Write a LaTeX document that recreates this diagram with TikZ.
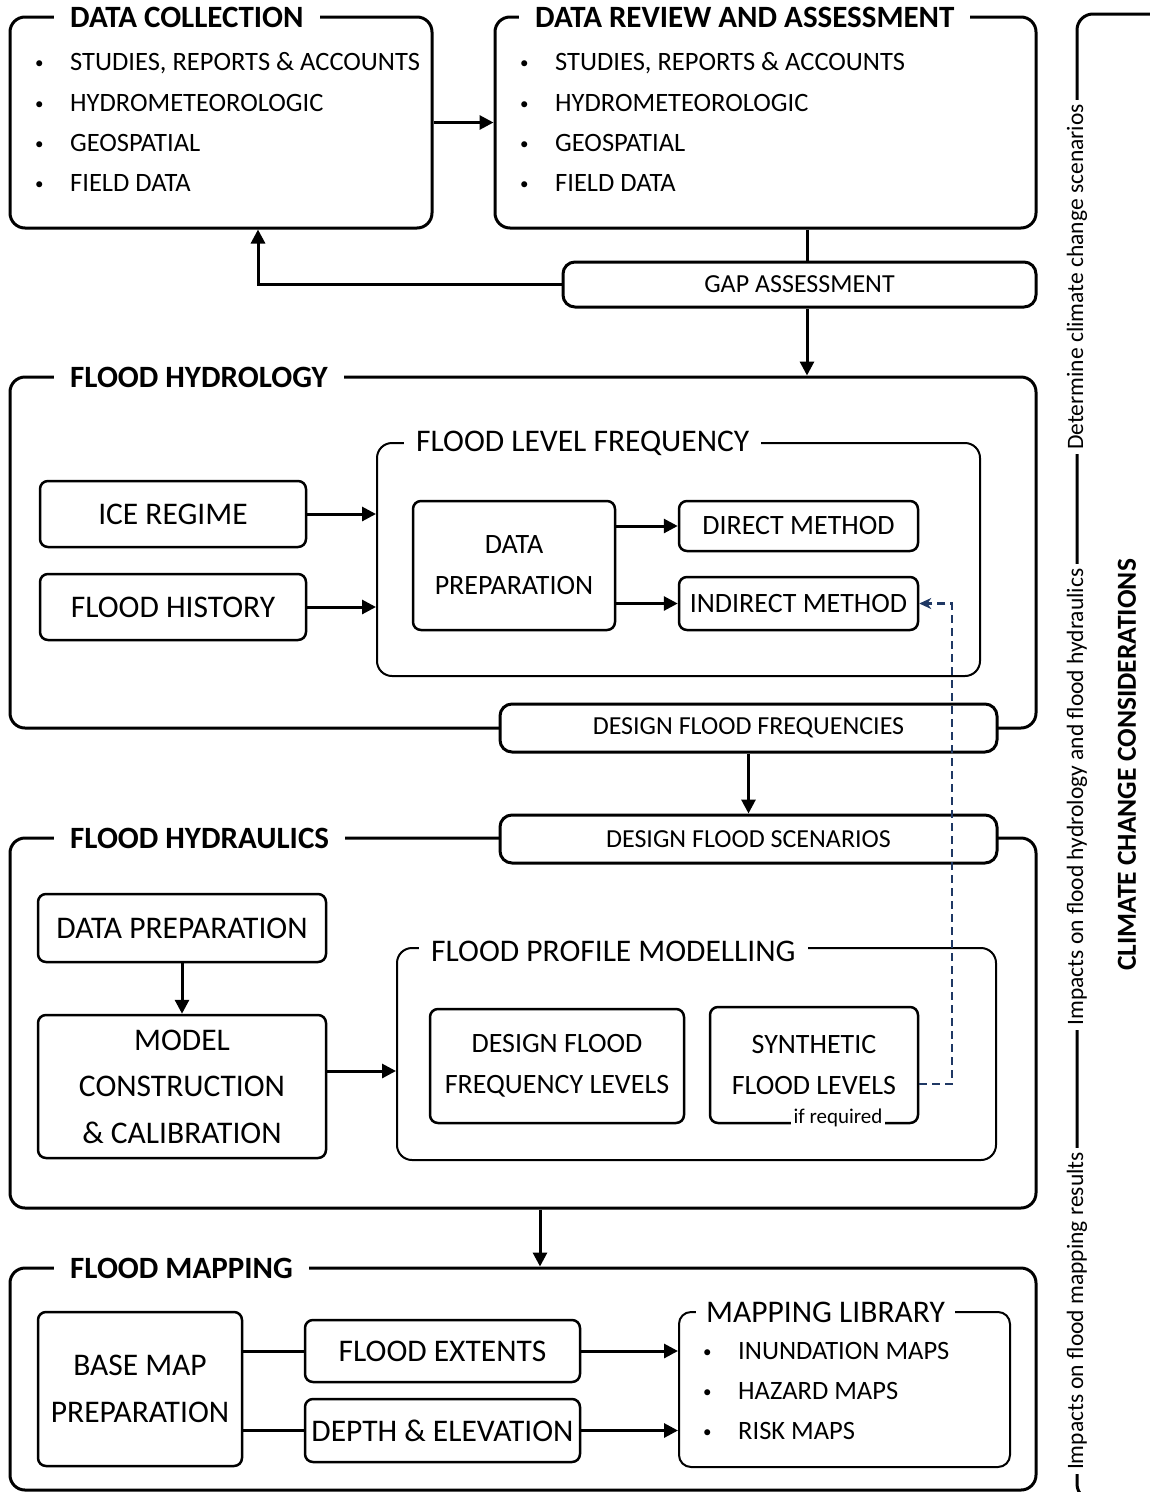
\documentclass[tikz,border=0pt]{standalone}
\usepackage{fontspec}
\setmainfont{Carlito}
\usetikzlibrary{arrows.meta}

\definecolor{navy}{HTML}{1F3864}

\newcommand{\listentry}[2]{\makebox[#1][l]{\raisebox{2pt}{\fontsize{17}{17}\selectfont\textbullet}}#2}

\tikzset{
  frame/.style={draw, line width=3pt, rounded corners=15pt, inner sep=0pt},
  subframe/.style={draw, line width=2pt, rounded corners=15pt, inner sep=0pt},
  box/.style={draw, fill=white, line width=2.5pt, rounded corners=8pt, align=center, inner sep=0pt},
  bar/.style={draw, fill=white, line width=3pt, rounded corners=12pt, inner sep=0pt,
    font=\fontsize{26}{30}\selectfont},
  heading/.style={fill=white, anchor=west, inner xsep=16pt, inner ysep=2pt,
    font=\bfseries\fontsize{31}{36}\selectfont},
  subheading/.style={fill=white, anchor=west, inner xsep=12pt, inner ysep=2pt,
    font=\fontsize{31.5}{36}\selectfont},
  entry/.style={anchor=west, inner sep=0pt, font=\fontsize{26.5}{32}\selectfont},
  big/.style={font=\fontsize{31.5}{46.5}\selectfont},
  small/.style={font=\fontsize{28}{41}\selectfont},
  arrow/.style={line width=3pt, -{Triangle[length=14pt,width=14pt]}},
  link/.style={line width=3pt},
  dashlink/.style={draw=navy, line width=2.5pt, dash pattern=on 8pt off 5pt,
    -{Stealth[length=12pt,width=11pt]}},
  side/.style={fill=white, rotate=90, inner xsep=4pt, inner ysep=1pt,
    font=\fontsize{23.5}{28}\selectfont}
}

\begin{document}
\begin{tikzpicture}[x=1pt, y=-1pt]
    \useasboundingbox (0,0) rectangle (1150,1492);

    % data collection
    \node[frame, minimum width=422pt, minimum height=211pt] (dcol) at (221,122.5) {};
    \node[heading] (dcolt) at (54,17) {DATA COLLECTION};
    \node[entry] (dc1) at (35,63) {\listentry{35pt}{STUDIES, REPORTS \& ACCOUNTS}};
    \node[entry] (dc2) at (35,103) {\listentry{35pt}{HYDROMETEOROLOGIC}};
    \node[entry] (dc3) at (35,143) {\listentry{35pt}{GEOSPATIAL}};
    \node[entry] (dc4) at (35,183) {\listentry{35pt}{FIELD DATA}};

    % data review
    \node[frame, minimum width=541pt, minimum height=211pt] (drev) at (765.5,122.5) {};
    \node[heading] (drevt) at (519,17) {DATA REVIEW AND ASSESSMENT};
    \node[entry] (dr1) at (520,63) {\listentry{35pt}{STUDIES, REPORTS \& ACCOUNTS}};
    \node[entry] (dr2) at (520,103) {\listentry{35pt}{HYDROMETEOROLOGIC}};
    \node[entry] (dr3) at (520,143) {\listentry{35pt}{GEOSPATIAL}};
    \node[entry] (dr4) at (520,183) {\listentry{35pt}{FIELD DATA}};

    \draw[arrow] (dcol.east) -- (drev.west);

    % gap assessment
    \coordinate (gx) at (807,0);
    \coordinate (cx) at (258,0);
    \draw[link] (drev.south -| gx) -- (807,270);
    \node[bar, minimum width=473pt, minimum height=45pt] (gap) at (799.5,284.5) {GAP ASSESSMENT};
    \draw[arrow] (gap.west) -| (dcol.south -| cx);

    % flood hydrology
    \node[frame, minimum width=1026pt, minimum height=351pt] (hyd) at (523,552.5) {};
    \node[heading] (hydt) at (54,377) {FLOOD HYDROLOGY};
    \draw[arrow] (gap.south -| gx) -- (hyd.north -| gx);

    \node[subframe, minimum width=603pt, minimum height=233pt] (flf) at (678.5,559.5) {};
    \node[subheading] (flft) at (404,443) {FLOOD LEVEL FREQUENCY};
    \node[box, big, minimum width=266pt, minimum height=66pt] (ice) at (173,514) {ICE REGIME};
    \node[box, big, minimum width=266pt, minimum height=66pt] (fhist) at (173,607) {FLOOD HISTORY};
    \node[box, small, minimum width=202pt, minimum height=129pt] (dprep) at (514,565.5) {DATA\\PREPARATION};
    \node[box, small, minimum width=239pt, minimum height=50pt] (direct) at (798.5,526) {DIRECT METHOD};
    \node[box, small, minimum width=239pt, minimum height=53pt] (indirect) at (798.5,603.5) {INDIRECT METHOD};

    \draw[arrow] (ice.east) -- (ice.east -| flf.west);
    \draw[arrow] (fhist.east) -- (fhist.east -| flf.west);
    \draw[arrow] (direct.west -| dprep.east) -- (direct.west);
    \draw[arrow] (indirect.west -| dprep.east) -- (indirect.west);

    \node[bar, minimum width=497pt, minimum height=48pt] (dff) at (748.5,728) {DESIGN FLOOD FREQUENCIES};

    % flood hydraulics
    \node[frame, minimum width=1026pt, minimum height=370pt] (hyr) at (523,1023) {};
    \node[heading] (hyrt) at (54,838) {FLOOD HYDRAULICS};
    \node[bar, minimum width=497pt, minimum height=48pt] (dfs) at (748.5,839) {DESIGN FLOOD SCENARIOS};
    \draw[arrow] (dff.south) -- (dfs.north);

    \node[box, big, minimum width=288pt, minimum height=68pt] (hdprep) at (182,928) {DATA PREPARATION};
    \node[box, big, minimum width=288pt, minimum height=143pt] (model) at (182,1086.5) {MODEL\\CONSTRUCTION\\\& CALIBRATION};
    \draw[arrow] (hdprep.south) -- (model.north);

    \node[subframe, minimum width=599pt, minimum height=212pt] (fpm) at (696.5,1054) {};
    \node[subheading] (fpmt) at (419,951) {FLOOD PROFILE MODELLING};
    \node[box, small, minimum width=254pt, minimum height=114pt] (dffl) at (557,1066) {DESIGN FLOOD\\FREQUENCY LEVELS};
    \node[box, small, minimum width=208pt, minimum height=116pt] (synth) at (814,1065) {SYNTHETIC\\FLOOD LEVELS};
    \node[fill=white, anchor=base, inner xsep=3pt, inner ysep=1pt,
        font=\fontsize{21}{24}\selectfont] (ifreq) at (838,1123) {if required};
    \draw[arrow] (model.east |- 0,1071) -- (fpm.west |- 0,1071);

    % flood mapping
    \coordinate (mx) at (540,0);
    \node[frame, minimum width=1026pt, minimum height=222pt] (map) at (523,1379) {};
    \node[heading] (mapt) at (54,1268) {FLOOD MAPPING};
    \draw[arrow] (hyr.south -| mx) -- (map.north -| mx);

    \node[box, big, minimum width=204pt, minimum height=154pt] (base) at (140,1389) {BASE MAP\\PREPARATION};
    \node[box, big, minimum width=275pt, minimum height=62pt] (ext) at (442.5,1351) {FLOOD EXTENTS};
    \node[box, big, minimum width=275pt, minimum height=63pt] (depth) at (442.5,1430.5) {DEPTH \& ELEVATION};
    \node[subframe, rounded corners=12pt, minimum width=331pt, minimum height=155pt] (lib) at (844.5,1389.5) {};
    \node[subheading, inner xsep=10pt] (libt) at (696,1312) {MAPPING LIBRARY};
    \node[entry] (ml1) at (703,1351) {\listentry{35pt}{INUNDATION MAPS}};
    \node[entry] (ml2) at (703,1391) {\listentry{35pt}{HAZARD MAPS}};
    \node[entry] (ml3) at (703,1431) {\listentry{35pt}{RISK MAPS}};

    \draw[link] (ext.west -| base.east) -- (ext.west);
    \draw[link] (depth.west -| base.east) -- (depth.west);
    \draw[arrow] (ext.east) -- (ext.east -| lib.west);
    \draw[arrow] (depth.east) -- (depth.east -| lib.west);

    % feedback to indirect method
    \draw[dashlink] (synth.east |- 0,1084) -- (952,1084) |- (indirect.east);

    % climate change bracket
    \draw[link, rounded corners=16pt] (1170,14) -- (1077,14) -- (1077,1500) -- (1170,1500);
    \node[side] (cc1) at (1077,277) {Determine climate change scenarios};
    \node[side] (cc2) at (1077,797) {Impacts on flood hydrology and flood hydraulics};
    \node[side] (cc3) at (1077,1311) {Impacts on flood mapping results};
    \node[rotate=90, font=\bfseries\fontsize{27.5}{32}\selectfont] (cc) at (1127,765) {CLIMATE CHANGE CONSIDERATIONS};
\end{tikzpicture}
\end{document}
